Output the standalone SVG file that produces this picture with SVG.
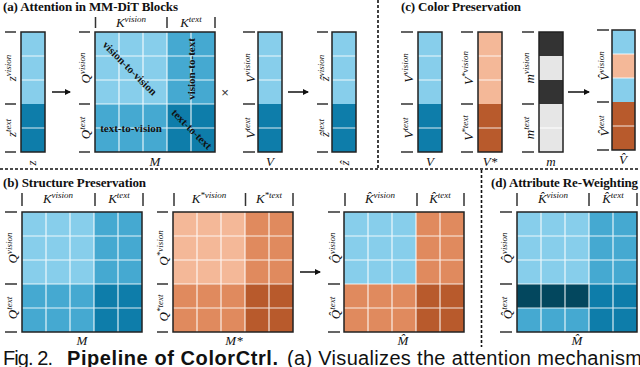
<svg xmlns="http://www.w3.org/2000/svg" width="640" height="367" viewBox="0 0 640 367">
<style>
.lb{fill:#87CEEB}.mb{fill:#45A9D1}.db{fill:#0E7DAA}.xb{fill:#03475E}
.ls{fill:#F4B898}.mo{fill:#E08A5E}.do{fill:#B85A2C}.dk{fill:#333}.lg{fill:#E6E6E6}
.grid{stroke:#fff;stroke-width:1.2;stroke-opacity:0.85;fill:none}
.border{fill:none;stroke:#222;stroke-width:1.5}
.tick{stroke:#333;stroke-width:1.5}
.lbl{font-family:"Liberation Serif",serif;font-style:italic;font-size:13px;fill:#111}
.sup{font-size:9px}
.title{font-family:"Liberation Serif",serif;font-weight:bold;font-size:13px;fill:#111}
.in{font-family:"Liberation Serif",serif;font-weight:bold;font-size:11px;fill:#111}
.dash{stroke:#111;stroke-width:1.6;stroke-dasharray:3 2;fill:none}
.arr{stroke:#111;stroke-width:1.5;marker-end:url(#ah)}
.cap{font-family:"Liberation Sans",sans-serif;font-size:20px;fill:#111}
</style>
<defs>
<marker id="ah" markerWidth="6" markerHeight="6" refX="5" refY="3" orient="auto" markerUnits="userSpaceOnUse">
<path d="M0,0 L6,3 L0,6 z" fill="#111"/>
</marker>
</defs>

<!-- separators -->
<g id="separators">
<line class="dash" x1="0" y1="169" x2="640" y2="169"/>
<line class="dash" x1="378" y1="0" x2="378" y2="169"/>
<line class="dash" x1="481.5" y1="170" x2="481.5" y2="347"/>
</g>

<!-- titles -->
<text class="title" x="3" y="11" textLength="175">(a) Attention in MM-DiT Blocks</text>
<text class="title" x="401" y="11" textLength="120">(c) Color Preservation</text>
<text class="title" x="3" y="187" textLength="143">(b) Structure Preservation</text>
<text class="title" x="491" y="187" textLength="147">(d) Attribute Re-Weighting</text>

<!-- (a) z column -->
<g id="z-col">
<rect class="lb" x="21" y="32" width="24" height="72"/>
<rect class="db" x="21" y="104" width="24" height="48"/>
<path class="grid" d="M21,56H45M21,80H45M21,128H45"/>
<rect class="border" x="21" y="32" width="24" height="120"/>
<path class="tick" d="M5,32H16M5,104H16M5,152H16"/>
<text class="lbl" transform="translate(16,68) rotate(-90)" text-anchor="middle">z<tspan class="sup" dy="-5">vision</tspan></text>
<text class="lbl" transform="translate(16,128) rotate(-90)" text-anchor="middle">z<tspan class="sup" dy="-5">text</tspan></text>
<text class="lbl" transform="translate(36,163) rotate(-90)" text-anchor="middle">z</text>
</g>

<!-- (a) M matrix -->
<g id="M-a">
<rect class="lb" x="95" y="32" width="72" height="72"/>
<rect class="mb" x="167" y="32" width="48" height="72"/>
<rect class="mb" x="95" y="104" width="72" height="48"/>
<rect class="db" x="167" y="104" width="48" height="48"/>
<path class="grid" d="M119,32V152M143,32V152M167,32V152M191,32V152M95,56H215M95,80H215M95,104H215M95,128H215"/>
<rect class="border" x="95" y="32" width="120" height="120"/>
<path class="tick" d="M95.5,17V28M167,17V28M215,17V28M79,32H90M79,104H90M79,152H90"/>
<text class="lbl" x="131" y="27" text-anchor="middle">K<tspan class="sup" dy="-5">vision</tspan></text>
<text class="lbl" x="191" y="27" text-anchor="middle">K<tspan class="sup" dy="-5">text</tspan></text>
<text class="lbl" transform="translate(90,68) rotate(-90)" text-anchor="middle">Q<tspan class="sup" dy="-5">vision</tspan></text>
<text class="lbl" transform="translate(90,128) rotate(-90)" text-anchor="middle">Q<tspan class="sup" dy="-5">text</tspan></text>
<text class="lbl" x="155" y="166" text-anchor="middle">M</text>
<text class="in" transform="translate(130,68) rotate(45)" text-anchor="middle" dy="4">vision-to-vision</text>
<text class="in" transform="translate(191,69) rotate(-90)" text-anchor="middle" dy="4">vision-to-text</text>
<text class="in" x="131" y="132" text-anchor="middle">text-to-vision</text>
<text class="in" transform="translate(192,129) rotate(45)" text-anchor="middle" dy="4">text-to-text</text>
</g>

<text x="225" y="97" font-family="Liberation Sans,sans-serif" font-size="13" text-anchor="middle" fill="#333">×</text>

<!-- (a) V column -->
<g id="V-a">
<rect class="lb" x="258" y="32" width="24" height="72"/>
<rect class="db" x="258" y="104" width="24" height="48"/>
<path class="grid" d="M258,56H282M258,80H282M258,128H282"/>
<rect class="border" x="258" y="32" width="24" height="120"/>
<path class="tick" d="M243,32H255M243,104H255M243,152H255"/>
<text class="lbl" transform="translate(255,68) rotate(-90)" text-anchor="middle">V<tspan class="sup" dy="-5">vision</tspan></text>
<text class="lbl" transform="translate(255,128) rotate(-90)" text-anchor="middle">V<tspan class="sup" dy="-5">text</tspan></text>
<text class="lbl" x="270" y="166" text-anchor="middle">V</text>
</g>

<!-- (a) z-hat column -->
<g id="zhat-a">
<rect class="lb" x="332" y="32" width="24" height="72"/>
<rect class="db" x="332" y="104" width="24" height="48"/>
<path class="grid" d="M332,56H356M332,80H356M332,128H356"/>
<rect class="border" x="332" y="32" width="24" height="120"/>
<path class="tick" d="M317,32H328M317,104H328M317,152H328"/>
<text class="lbl" transform="translate(329,68) rotate(-90)" text-anchor="middle">&#x1E91;<tspan class="sup" dy="-5">vision</tspan></text>
<text class="lbl" transform="translate(329,128) rotate(-90)" text-anchor="middle">&#x1E91;<tspan class="sup" dy="-5">text</tspan></text>
<text class="lbl" transform="translate(349,163) rotate(-90)" text-anchor="middle">&#x1E91;</text>
</g>

<!-- (c) V column -->
<g id="V-c">
<rect class="lb" x="418" y="32" width="24" height="72"/>
<rect class="db" x="418" y="104" width="24" height="48"/>
<path class="grid" d="M418,56H442M418,80H442M418,128H442"/>
<rect class="border" x="418" y="32" width="24" height="120"/>
<path class="tick" d="M401,32H413M401,104H413M401,152H413"/>
<text class="lbl" transform="translate(413,68) rotate(-90)" text-anchor="middle">V<tspan class="sup" dy="-5">vision</tspan></text>
<text class="lbl" transform="translate(413,128) rotate(-90)" text-anchor="middle">V<tspan class="sup" dy="-5">text</tspan></text>
<text class="lbl" x="430" y="166" text-anchor="middle">V</text>
</g>

<!-- (c) V* column -->
<g id="Vstar-c">
<rect class="ls" x="478" y="32" width="24" height="72"/>
<rect class="do" x="478" y="104" width="24" height="48"/>
<path class="grid" d="M478,56H502M478,80H502M478,128H502"/>
<rect class="border" x="478" y="32" width="24" height="120"/>
<path class="tick" d="M461,32H473M461,104H473M461,152H473"/>
<text class="lbl" transform="translate(473,68) rotate(-90)" text-anchor="middle">V<tspan class="sup" dy="-5">*vision</tspan></text>
<text class="lbl" transform="translate(473,128) rotate(-90)" text-anchor="middle">V<tspan class="sup" dy="-5">*text</tspan></text>
<text class="lbl" x="490" y="166" text-anchor="middle">V*</text>
</g>

<!-- (c) m column -->
<g id="m-c">
<rect class="dk" x="539" y="32" width="24" height="24"/>
<rect class="lg" x="539" y="56" width="24" height="24"/>
<rect class="dk" x="539" y="80" width="24" height="24"/>
<rect class="lg" x="539" y="104" width="24" height="48"/>
<path class="grid" d="M539,128H563"/>
<rect class="border" x="539" y="32" width="24" height="120"/>
<path class="tick" d="M522,32H534M522,104H534M522,152H534"/>
<text class="lbl" transform="translate(534,68) rotate(-90)" text-anchor="middle">m<tspan class="sup" dy="-5">vision</tspan></text>
<text class="lbl" transform="translate(534,128) rotate(-90)" text-anchor="middle">m<tspan class="sup" dy="-5">text</tspan></text>
<text class="lbl" x="551" y="166" text-anchor="middle">m</text>
</g>

<!-- (c) V-hat column -->
<g id="Vhat-c">
<rect class="lb" x="612" y="30" width="23" height="24"/>
<rect class="ls" x="612" y="54" width="23" height="24"/>
<rect class="lb" x="612" y="78" width="23" height="24"/>
<rect class="do" x="612" y="102" width="23" height="48"/>
<path class="grid" d="M612,54H635M612,78H635M612,126H635"/>
<rect class="border" x="612" y="30" width="23" height="120"/>
<path class="tick" d="M597,30H609M597,102H609M597,150H609"/>
<text class="lbl" transform="translate(609,66) rotate(-90)" text-anchor="middle">V&#x302;<tspan class="sup" dy="-5">vision</tspan></text>
<text class="lbl" transform="translate(609,126) rotate(-90)" text-anchor="middle">V&#x302;<tspan class="sup" dy="-5">text</tspan></text>
<text class="lbl" x="623" y="164" text-anchor="middle">V&#x302;</text>
</g>

<!-- (b) M -->
<g id="M-b">
<rect class="lb" x="22" y="212" width="72" height="72"/>
<rect class="mb" x="94" y="212" width="48" height="72"/>
<rect class="mb" x="22" y="284" width="72" height="48"/>
<rect class="db" x="94" y="284" width="48" height="48"/>
<path class="grid" d="M46,212V332M70,212V332M94,212V332M118,212V332M22,236H142M22,260H142M22,284H142M22,308H142"/>
<rect class="border" x="22" y="212" width="120" height="120"/>
<path class="tick" d="M22,193V206M95,193V206M143,193V206M5,212H17M5,284H17M5,332H17"/>
<text class="lbl" x="58" y="203" text-anchor="middle">K<tspan class="sup" dy="-5">vision</tspan></text>
<text class="lbl" x="119" y="203" text-anchor="middle">K<tspan class="sup" dy="-5">text</tspan></text>
<text class="lbl" transform="translate(17,248) rotate(-90)" text-anchor="middle">Q<tspan class="sup" dy="-5">vision</tspan></text>
<text class="lbl" transform="translate(17,308) rotate(-90)" text-anchor="middle">Q<tspan class="sup" dy="-5">text</tspan></text>
<text class="lbl" x="82" y="345" text-anchor="middle">M</text>
</g>

<!-- (b) M* -->
<g id="Mstar-b">
<rect class="ls" x="173" y="212" width="72" height="72"/>
<rect class="mo" x="245" y="212" width="48" height="72"/>
<rect class="mo" x="173" y="284" width="72" height="48"/>
<rect class="do" x="245" y="284" width="48" height="48"/>
<path class="grid" d="M197,212V332M221,212V332M245,212V332M269,212V332M173,236H293M173,260H293M173,284H293M173,308H293"/>
<rect class="border" x="173" y="212" width="120" height="120"/>
<path class="tick" d="M174,193V206M245.5,193V206M293,193V206M157,212H168M157,284H168M157,332H168"/>
<text class="lbl" x="209" y="203" text-anchor="middle">K<tspan class="sup" dy="-5">*vision</tspan></text>
<text class="lbl" x="269" y="203" text-anchor="middle">K<tspan class="sup" dy="-5">*text</tspan></text>
<text class="lbl" transform="translate(168,248) rotate(-90)" text-anchor="middle">Q<tspan class="sup" dy="-5">*vision</tspan></text>
<text class="lbl" transform="translate(168,308) rotate(-90)" text-anchor="middle">Q<tspan class="sup" dy="-5">*text</tspan></text>
<text class="lbl" x="234" y="345" text-anchor="middle">M*</text>
</g>

<!-- (b) M-hat -->
<g id="Mhat-b">
<rect class="lb" x="344" y="212" width="72" height="72"/>
<rect class="mo" x="416" y="212" width="48" height="72"/>
<rect class="mo" x="344" y="284" width="72" height="48"/>
<rect class="do" x="416" y="284" width="48" height="48"/>
<path class="grid" d="M368,212V332M392,212V332M416,212V332M440,212V332M344,236H464M344,260H464M344,284H464M344,308H464"/>
<rect class="border" x="344" y="212" width="120" height="120"/>
<path class="tick" d="M345,193V206M417,193V206M464,193V206M328,212H340M328,284H340M328,332H340"/>
<text class="lbl" x="380" y="203" text-anchor="middle">K&#x302;<tspan class="sup" dy="-5">vision</tspan></text>
<text class="lbl" x="440" y="203" text-anchor="middle">K&#x302;<tspan class="sup" dy="-5">text</tspan></text>
<text class="lbl" transform="translate(340,248) rotate(-90)" text-anchor="middle">Q&#x302;<tspan class="sup" dy="-5">vision</tspan></text>
<text class="lbl" transform="translate(340,308) rotate(-90)" text-anchor="middle">Q&#x302;<tspan class="sup" dy="-5">text</tspan></text>
<text class="lbl" x="403" y="345" text-anchor="middle">M&#x302;</text>
</g>

<!-- (d) M-hat -->
<g id="Mhat-d">
<rect class="lb" x="517" y="212" width="72" height="72"/>
<rect class="mb" x="589" y="212" width="48" height="72"/>
<rect class="xb" x="517" y="284" width="72" height="24"/>
<rect class="mb" x="517" y="308" width="72" height="24"/>
<rect class="db" x="589" y="284" width="48" height="48"/>
<path class="grid" d="M541,212V332M565,212V332M589,212V332M613,212V332M517,236H637M517,260H637M517,284H637M517,308H637"/>
<rect class="border" x="517" y="212" width="120" height="120"/>
<path class="tick" d="M517,193V206M589,193V206M637,193V206M500,212H512M500,284H512M500,332H512"/>
<text class="lbl" x="553" y="203" text-anchor="middle">K&#x302;<tspan class="sup" dy="-5">vision</tspan></text>
<text class="lbl" x="613" y="203" text-anchor="middle">K&#x302;<tspan class="sup" dy="-5">text</tspan></text>
<text class="lbl" transform="translate(512,248) rotate(-90)" text-anchor="middle">Q&#x302;<tspan class="sup" dy="-5">vision</tspan></text>
<text class="lbl" transform="translate(512,308) rotate(-90)" text-anchor="middle">Q&#x302;<tspan class="sup" dy="-5">text</tspan></text>
<text class="lbl" x="577" y="345" text-anchor="middle">M&#x302;</text>
</g>

<!-- connectors -->
<g id="connectors">
<line class="arr" x1="52" y1="92" x2="70" y2="92"/>
<line class="arr" x1="288" y1="92" x2="308" y2="92"/>
<line class="arr" x1="568" y1="92" x2="589" y2="92"/>
<line class="arr" x1="300" y1="272" x2="320" y2="272"/>
</g>

<!-- caption -->
<text class="cap" y="365"><tspan x="3" textLength="50">Fig. 2.</tspan><tspan x="67" font-weight="bold" textLength="211">Pipeline of ColorCtrl.</tspan><tspan x="287" textLength="355">(a) Visualizes the attention mechanism</tspan></text>
</svg>
